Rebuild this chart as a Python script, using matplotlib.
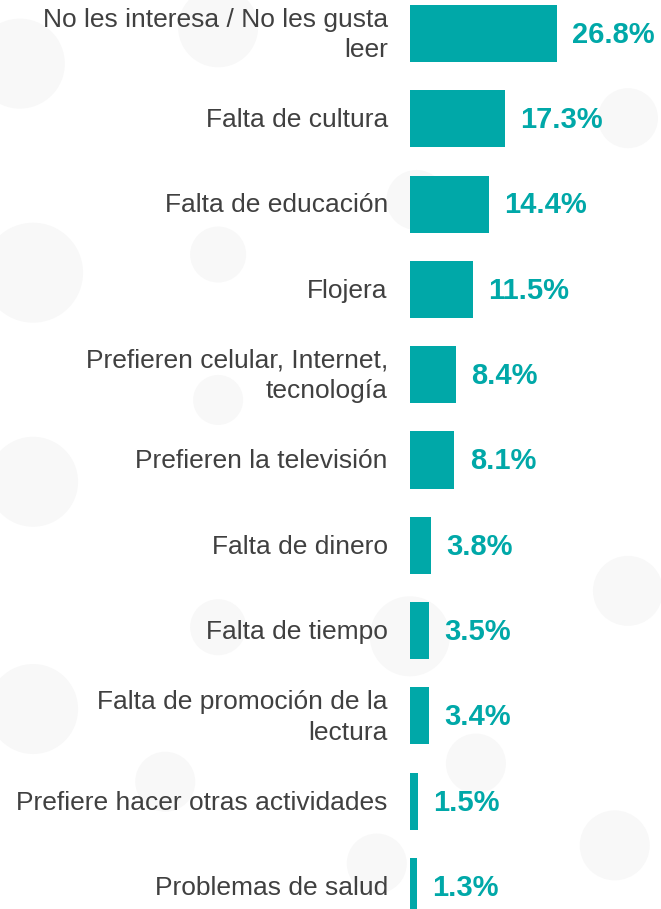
import matplotlib.pyplot as plt
from matplotlib.patches import Circle

TEAL = '#00a8a8'
GREY = '#404040'

reasons = [
    'No les interesa / No les gusta\nleer',
    'Falta de cultura',
    'Falta de educación',
    'Flojera',
    'Prefieren celular, Internet,\ntecnología',
    'Prefieren la televisión',
    'Falta de dinero',
    'Falta de tiempo',
    'Falta de promoción de la\nlectura',
    'Prefiere hacer otras actividades',
    'Problemas de salud',
]
shares = [26.8, 17.3, 14.4, 11.5, 8.4, 8.1, 3.8, 3.5, 3.4, 1.5, 1.3]

# faint decorative bubbles in the background (figure fraction, radius in px)
bubbles = [
    (0.03, 0.93, 45), (0.33, 0.97, 40), (0.63, 0.78, 30), (0.05, 0.70, 50),
    (0.33, 0.72, 28), (0.05, 0.47, 45), (0.33, 0.56, 25), (0.33, 0.31, 28),
    (0.05, 0.22, 45), (0.62, 0.30, 40), (0.95, 0.35, 35), (0.93, 0.07, 35),
    (0.57, 0.05, 30), (0.72, 0.16, 30), (0.95, 0.87, 30), (0.25, 0.14, 30),
]

plt.rcParams['font.family'] = ['Liberation Sans', 'DejaVu Sans']

fig = plt.figure(figsize=(6.61, 9.09), dpi=100)
W, H = 661, 909
for bx, by, r in bubbles:
    fig.patches.append(Circle((bx * W, by * H), r, transform=None,
                              facecolor='#f8f8f8', edgecolor='none', zorder=-5))

ax = fig.add_axes([410 / W, 0, 251 / W, 1])
ax.set_zorder(2)
ax.patch.set_alpha(0)

pos = list(range(len(reasons)))
bars = ax.barh(pos, shares, height=0.67, color=TEAL)
ax.set_xlim(0, 251 / 5.49)
ax.set_ylim((H - 33.5) / 85.3, -33.5 / 85.3)

for y, label, val in zip(pos, reasons, shares):
    ax.annotate(label, xy=(0, y), xytext=(-16, -1), textcoords='offset points',
                ha='right', va='center', fontsize=19, color=GREY,
                linespacing=1.35, annotation_clip=False)
    ax.annotate(f'{val:.1f}%', xy=(val, y), xytext=(11, -1), textcoords='offset points',
                ha='left', va='center', fontsize=21, fontweight='bold', color=TEAL,
                annotation_clip=False)

ax.axis('off')
fig.savefig('out.png', dpi=100)
